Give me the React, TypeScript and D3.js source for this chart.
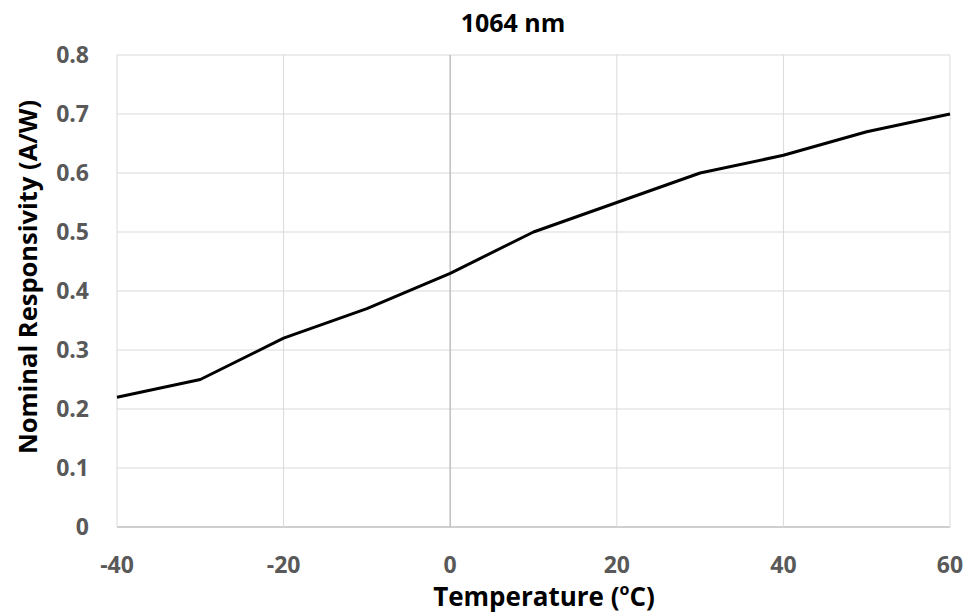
import React from 'react';
import * as d3 from 'd3';

const temps = [-40, -30, -20, -10, 0, 10, 20, 30, 40, 50, 60];
const responsivity = [0.22, 0.25, 0.32, 0.37, 0.43, 0.5, 0.55, 0.6, 0.63, 0.67, 0.7];
const xTicks = [-40, -20, 0, 20, 40, 60];
const yTicks = [0, 0.1, 0.2, 0.3, 0.4, 0.5, 0.6, 0.7, 0.8];

const W = 971;
const H = 616;
const left = 117;
const right = 950;
const top = 55;
const bottom = 527;
const font = '"Open Sans", Lato, sans-serif';

export default function App() {
  const x = d3.scaleLinear().domain([-40, 60]).range([left, right]);
  const y = d3.scaleLinear().domain([0, 0.8]).range([bottom, top]);

  const line = d3.line<number>()
    .x((d, i) => x(temps[i]))
    .y(d => y(d));

  return (
    <svg width={W} height={H} style={{ position: 'absolute', left: 0, top: 0, background: '#fff' }}>
      {/* horizontal grid */}
      {yTicks.map(t => (
        <line key={'h' + t} x1={left} x2={right} y1={y(t)} y2={y(t)}
          stroke={t === 0 ? '#bfbfbf' : '#d9d9d9'} strokeWidth={t === 0 ? 1.5 : 1} />
      ))}
      {/* vertical grid */}
      {xTicks.map(t => (
        <line key={'v' + t} x1={x(t)} x2={x(t)} y1={top} y2={bottom}
          stroke={t === 0 ? '#bfbfbf' : '#d9d9d9'} strokeWidth={t === 0 ? 1.5 : 1} />
      ))}

      <path d={line(responsivity) || ''} fill="none" stroke="#000" strokeWidth={3} strokeLinejoin="round" />

      {/* y tick labels */}
      {yTicks.map(t => (
        <text key={'yl' + t} x={89} y={y(t)} dy="0.36em" textAnchor="end"
          fontFamily={font} fontWeight="bold" fontSize={23} fill="#595959">
          {t === 0 ? '0' : d3.format('.1f')(t)}
        </text>
      ))}
      {/* x tick labels */}
      {xTicks.map(t => (
        <text key={'xl' + t} x={x(t)} y={573} textAnchor="middle"
          fontFamily={font} fontWeight="bold" fontSize={23} fill="#595959">
          {t}
        </text>
      ))}

      <text x={513} y={32} textAnchor="middle" fontFamily={font} fontWeight="bold" fontSize={25} fill="#000">
        1064 nm
      </text>

      <text x={544} y={606} textAnchor="middle" fontFamily={font} fontWeight="bold" fontSize={26} fill="#000">
        Temperature (<tspan baselineShift="super" fontSize={16}>o</tspan>C)
      </text>

      <text transform={`translate(37, 277) rotate(-90)`} textAnchor="middle"
        fontFamily={font} fontWeight="bold" fontSize={25.5} fill="#000">
        Nominal Responsivity (A/W)
      </text>
    </svg>
  );
}
